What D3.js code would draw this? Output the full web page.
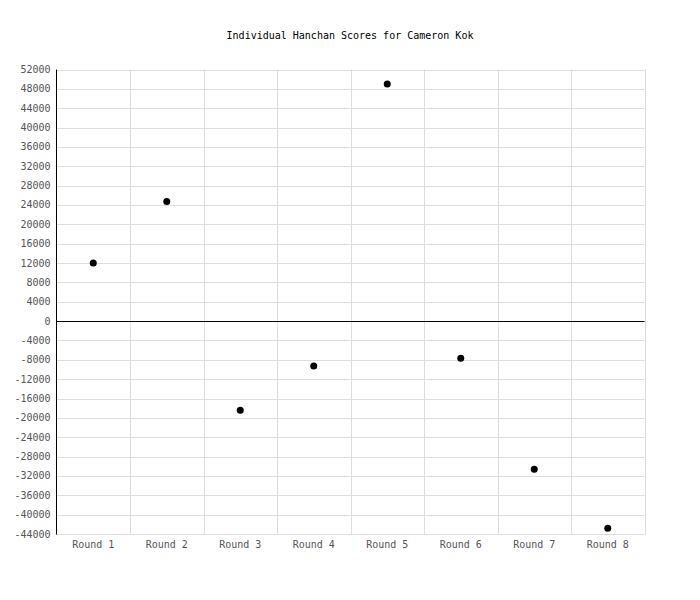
<!DOCTYPE html>
<html>
<head>
<meta charset="utf-8">
<script src="https://cdn.jsdelivr.net/npm/d3@7"></script>
<style>
  body { margin: 0; background: #fff; }
  svg { display: block; }
  text { font-family: "DejaVu Sans Mono", "Liberation Mono", monospace; font-size: 10px; }
</style>
</head>
<body>
<svg id="chart"></svg>
<script>
const rounds = ["Round 1", "Round 2", "Round 3", "Round 4", "Round 5", "Round 6", "Round 7", "Round 8"];
const scores = [12000, 24700, -18400, -9300, 49000, -7700, -30600, -42800];
const yTicks = d3.range(-44000, 52001, 4000);

const width = 700, height = 600;
const margin = { top: 69.5, right: 55.5, bottom: 66, left: 56.5 };

const svg = d3.select("#chart").attr("width", width).attr("height", height);

const x = d3.scaleBand()
  .domain(rounds)
  .range([margin.left, width - margin.right]);

const y = d3.scaleLinear()
  .domain([-44000, 52000])
  .range([height - margin.bottom, margin.top]);

// title
svg.append("text")
  .attr("x", 350)
  .attr("y", 39)
  .attr("text-anchor", "middle")
  .attr("fill", "#000")
  .text("Individual Hanchan Scores for Cameron Kok");

// horizontal grid
svg.append("g")
  .selectAll("line")
  .data(yTicks)
  .join("line")
  .attr("x1", margin.left)
  .attr("x2", width - margin.right)
  .attr("y1", d => Math.round(y(d)) + 0.5)
  .attr("y2", d => Math.round(y(d)) + 0.5)
  .attr("stroke", "#ddd");

// vertical grid (band edges)
const edges = rounds.map(r => x(r)).concat([x.range()[1]]);
svg.append("g")
  .selectAll("line")
  .data(edges.slice(1))
  .join("line")
  .attr("x1", d => Math.round(d) + 0.5)
  .attr("x2", d => Math.round(d) + 0.5)
  .attr("y1", margin.top)
  .attr("y2", height - margin.bottom + 0.5)
  .attr("stroke", "#ddd");

// zero line
svg.append("line")
  .attr("x1", margin.left)
  .attr("x2", width - margin.right)
  .attr("y1", Math.round(y(0)) + 0.5)
  .attr("y2", Math.round(y(0)) + 0.5)
  .attr("stroke", "#000");

// left axis line
svg.append("line")
  .attr("x1", margin.left)
  .attr("x2", margin.left)
  .attr("y1", margin.top)
  .attr("y2", height - margin.bottom + 0.5)
  .attr("stroke", "#000");

// y tick labels
svg.append("g")
  .selectAll("text")
  .data(yTicks)
  .join("text")
  .attr("x", margin.left - 6)
  .attr("y", d => y(d))
  .attr("dy", "0.35em")
  .attr("text-anchor", "end")
  .attr("fill", "#555")
  .text(d => d);

// x tick labels
svg.append("g")
  .selectAll("text")
  .data(rounds)
  .join("text")
  .attr("x", d => x(d) + x.bandwidth() / 2)
  .attr("y", height - margin.bottom + 14)
  .attr("text-anchor", "middle")
  .attr("fill", "#555")
  .text(d => d);

// points
svg.append("g")
  .selectAll("circle")
  .data(scores)
  .join("circle")
  .attr("cx", (d, i) => x(rounds[i]) + x.bandwidth() / 2)
  .attr("cy", d => y(d))
  .attr("r", 3.5)
  .attr("fill", "#000");
</script>
</body>
</html>
